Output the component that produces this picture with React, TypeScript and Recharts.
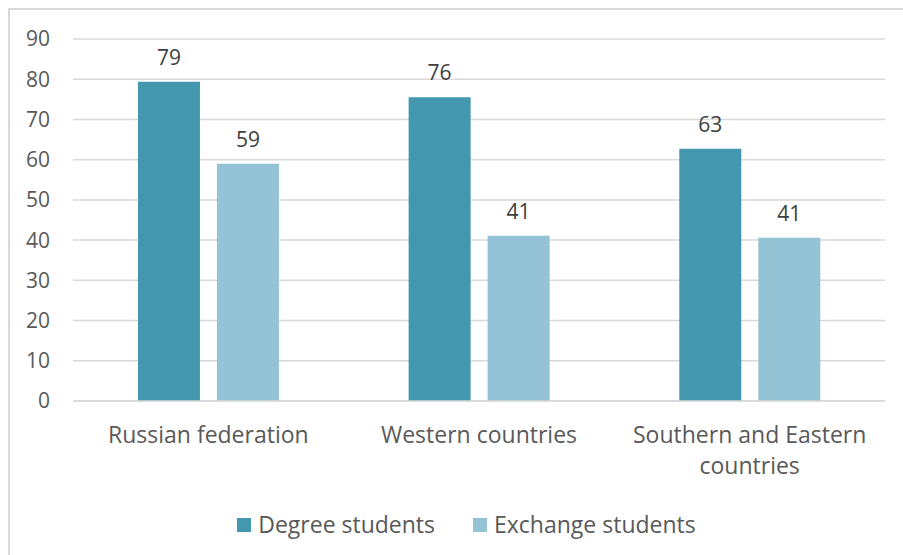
import React from 'react';
import { BarChart, Bar, XAxis, YAxis, CartesianGrid, LabelList, Legend } from 'recharts';

const categories = ['Russian federation', 'Western countries', 'Southern and Eastern countries'];
const degreeStudents = [79.4, 75.5, 62.7];
const exchangeStudents = [59.0, 41.1, 40.6];
const yTicks = [0, 10, 20, 30, 40, 50, 60, 70, 80, 90];

const series = [
  { key: 'degree', name: 'Degree students', color: '#4398b0' },
  { key: 'exchange', name: 'Exchange students', color: '#93c3d4' },
];

const data = categories.map((name, i) => ({
  name,
  degree: degreeStudents[i],
  exchange: exchangeStudents[i],
}));

const FONT = '"Open Sans", sans-serif';

// break long category names into two lines like the original
const wrapLabel = (s: string) => {
  if (s.length < 22) return [s];
  const words = s.split(' ');
  return [words.slice(0, -1).join(' '), words[words.length - 1]];
};

const renderCategoryTick = (props: any) => {
  const { x, y, payload } = props;
  const lines = wrapLabel(String(payload.value));
  return (
    <text x={x} y={y + 34} textAnchor="middle" fill="#595959" fontSize={23} fontFamily={FONT}>
      {lines.map((l, i) => (
        <tspan key={i} x={x} dy={i === 0 ? 0 : 31}>
          {l}
        </tspan>
      ))}
    </text>
  );
};

const LegendContent = () => (
  <div
    style={{
      display: 'flex',
      justifyContent: 'center',
      gap: 38,
      paddingLeft: 38,
      fontFamily: FONT,
      fontSize: 23,
      color: '#595959',
      lineHeight: '31px',
    }}
  >
    {series.map((s) => (
      <div key={s.key} style={{ display: 'flex', alignItems: 'center', gap: 7 }}>
        <div style={{ width: 14, height: 14, background: s.color }} />
        <span>{s.name}</span>
      </div>
    ))}
  </div>
);

const App = () => {
  return (
    <div
      style={{
        position: 'fixed',
        left: 8,
        top: 8,
        width: 900,
        height: 560,
        borderTop: '2px solid #d9d9d9',
        borderLeft: '2px solid #d9d9d9',
        overflow: 'hidden',
        background: '#fff',
      }}
    >
      <BarChart
        width={893}
        height={537}
        data={data}
        margin={{ top: 29, right: 18, left: 0, bottom: 7 }}
        barCategoryGap="24%"
        barGap={17}
      >
        <CartesianGrid vertical={false} stroke="#d9d9d9" strokeWidth={1.5} />
        <XAxis
          dataKey="name"
          axisLine={{ stroke: '#d9d9d9', strokeWidth: 1.5 }}
          tickLine={false}
          tick={renderCategoryTick}
          height={108}
          interval={0}
        />
        <YAxis
          domain={[0, 90]}
          ticks={yTicks}
          axisLine={false}
          tickLine={false}
          width={63}
          tickMargin={17}
          tick={{ fill: '#595959', fontSize: 21, fontFamily: FONT }}
        />
        <Legend verticalAlign="bottom" content={<LegendContent />} />
        {series.map((s) => (
          <Bar key={s.key} dataKey={s.key} name={s.name} fill={s.color} isAnimationActive={false}>
            <LabelList
              dataKey={s.key}
              position="top"
              offset={17}
              formatter={(v: any) => Math.round(Number(v))}
              fill="#404040"
              fontSize={21}
              fontFamily={FONT}
            />
          </Bar>
        ))}
      </BarChart>
    </div>
  );
};

export default App;
